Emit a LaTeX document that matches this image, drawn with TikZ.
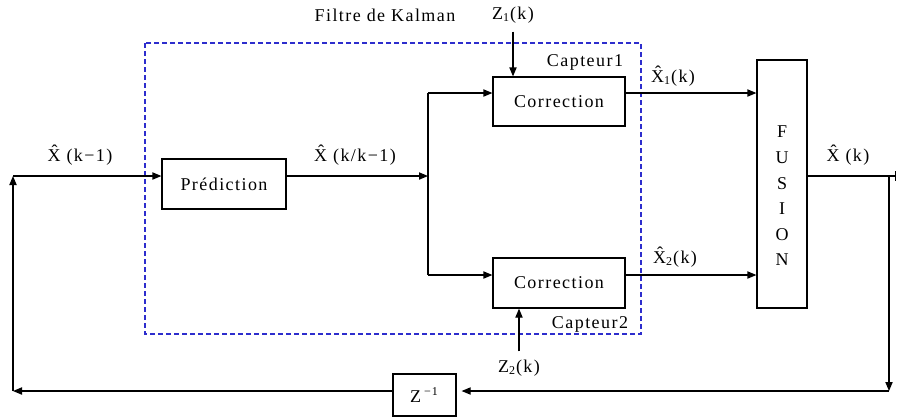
\documentclass[tikz,border=0pt]{standalone}
\usepackage{fontspec}
\setmainfont[LetterSpace=8]{Liberation Serif}
\usepackage{tikz}
\usetikzlibrary{arrows.meta}
\tikzset{
  bloc/.style={draw, line width=0.6pt, inner sep=0pt, font=\fontsize{9}{10}\selectfont},
  etiq/.style={inner sep=0pt, font=\fontsize{9}{10}\selectfont},
  lien/.style={line width=0.6pt},
  fleche/.style={line width=0.6pt, -{Triangle[length=4.5pt,width=3.6pt]}},
  filtre/.style={draw={rgb,255:red,45;green,45;blue,205}, line width=0.6pt, dash pattern=on 2.5pt off 1.5pt}
}

\begin{document}
\begin{tikzpicture}[x=0.5pt,y=-0.5pt]
\useasboundingbox (0,0) rectangle (897,419);
%\draw[help lines] (0,0) grid[step=50] (897,419);
\draw[filtre] (145,43) rectangle (641,334);
\node[etiq] (kalman) at (385,15) {Filtre de Kalman};

\begin{scope}
    \node[bloc, minimum width=62pt, minimum height=25pt] (pred) at (224,184) {Prédiction};
    \node[bloc, minimum width=66pt, minimum height=24.5pt] (cor1) at (559,101.5) {Correction};
    \node[bloc, minimum width=66pt, minimum height=25pt] (cor2) at (559,283) {Correction};
    \node[bloc, minimum width=25pt, minimum height=124pt] (fus) at (782,184) {};
    \node[etiq, align=center, font=\fontsize{9}{12.8}\selectfont] (fustxt) at (782,196) {F\\U\\S\\I\\O\\N};
    \node[bloc, minimum width=31.5pt, minimum height=21pt] (retard) at (424.5,395) {Z\,\textsuperscript{−1}};
\end{scope}

\node[etiq] (cap1) at (585,62) {Capteur1};
\node[etiq] (cap2) at (590,324) {Capteur2};
\node[etiq] (z1) at (513,15) {Z\textsubscript{1}(k)};
\node[etiq] (z2) at (519,368) {Z\textsubscript{2}(k)};
\node[etiq] (xprec) at (80,155) {\^X (k−1)};
\node[etiq] (xpred) at (355,155) {\^X (k/k−1)};
\node[etiq] (xun) at (673,76) {\^X\textsubscript{1}(k)};
\node[etiq] (xdeux) at (675,257) {\^X\textsubscript{2}(k)};
\node[etiq] (xsortie) at (848,155) {\^X (k)};

\coordinate (entree) at (13,176);
\coordinate (noeud) at (428,176);
\coordinate (haut) at (428,93);
\coordinate (bas) at (428,275);
\coordinate (bout) at (896,176);
\coordinate (coin) at (889,176);
\coordinate (coinbas) at (889,391);
\coordinate (gauche) at (13,391);

\draw[fleche] (entree) -- (entree -| pred.west);
\draw[fleche] (pred.east |- noeud) -- (noeud);
\draw[lien] (haut) -- (bas);
\draw[fleche] (haut) -- (haut -| cor1.west);
\draw[fleche] (bas) -- (bas -| cor2.west);
\draw[fleche] ([yshift=-4pt]z1.south) -- (z1 |- cor1.north);
\draw[fleche] ([yshift=4pt]z2.north) -- (z2 |- cor2.south);
\draw[fleche] (cor1.east |- haut) -- (fus.west |- haut);
\draw[fleche] (cor2.east |- bas) -- (fus.west |- bas);
\draw[lien, -{Bar[width=5pt]}] (fus.east |- bout) -- (bout);
\draw[fleche] (coin) -- (coinbas);
\draw[fleche] (coinbas) -- ([xshift=2.5pt]retard.east |- coinbas);
\draw[fleche] (retard.west |- coinbas) -- (gauche);
\draw[fleche] (gauche) -- (entree);
\end{tikzpicture}
\end{document}
